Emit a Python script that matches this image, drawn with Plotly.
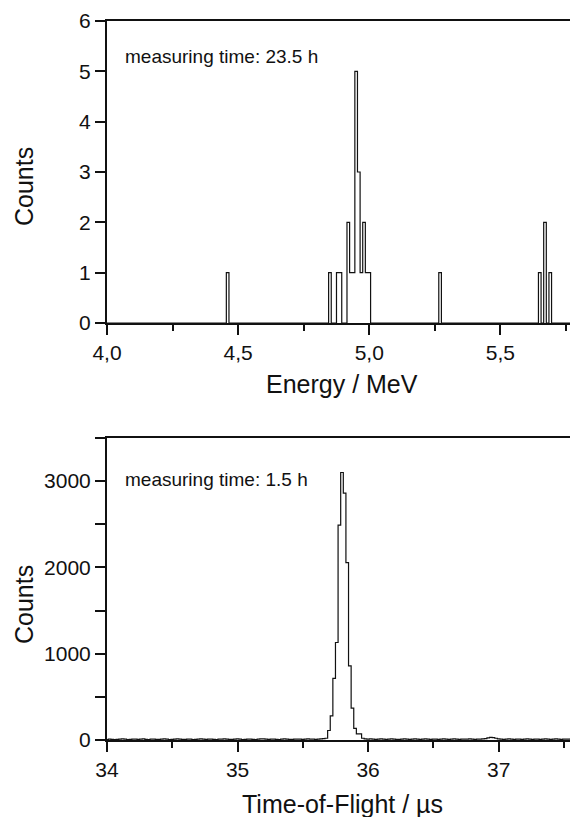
import numpy as np
import plotly.graph_objects as go

# ---------------- data ----------------
# Energy spectrum (top): 0.01 MeV bins, left edges of non-empty bins and their counts
energy_bin_left = [4.455, 4.845, 4.875, 4.885, 4.915, 4.925, 4.935, 4.945, 4.955,
                   4.965, 4.975, 4.985, 4.995, 5.265, 5.645, 5.665, 5.685]
energy_counts = [1, 1, 1, 1, 2, 1, 1, 5, 3, 1, 2, 1, 1, 1, 1, 2, 1]
energy_bin_width = 0.01
energy_start, energy_stop = 3.995, 5.805

# Time-of-flight spectrum (bottom): 0.02 us bins starting at 33.99 us
tof_start = 33.99
tof_bin_width = 0.02
tof_counts = [
    6, 9, 8, 5, 7, 10, 12, 9, 6, 8,          # 33.99 - 34.17
    11, 9, 7, 10, 12, 8, 6, 9, 11, 8,        # 34.19 - 34.37
    7, 10, 12, 9, 6, 8, 10, 13, 9, 7,        # 34.39 - 34.57
    8, 11, 9, 6, 8, 10, 12, 9, 7, 9,         # 34.59 - 34.77
    10, 8, 6, 9, 11, 13, 9, 7, 8, 10,        # 34.79 - 34.97
    12, 9, 6, 8, 10, 11, 8, 6, 9, 12,        # 34.99 - 35.17
    14, 10, 7, 9, 11, 8, 6, 9, 12, 10,       # 35.19 - 35.37
    8, 7, 9, 11, 10, 8, 9, 12, 10, 9,        # 35.39 - 35.57
    8, 10, 12, 15, 20, 110, 280, 715, 1130, 2490,   # 35.59 - 35.77
    3100, 2860, 2055, 860, 370, 135, 70, 70, 20, 12,  # 35.79 - 35.97
    10, 12, 9, 7, 10, 13, 11, 8, 9, 12,      # 35.99 - 36.17
    10, 8, 7, 10, 12, 9, 8, 11, 13, 10,      # 36.19 - 36.37
    8, 9, 12, 10, 7, 9, 11, 8, 10, 12,       # 36.39 - 36.57
    9, 7, 10, 12, 9, 8, 11, 10, 9, 12,       # 36.59 - 36.77
    10, 8, 11, 9, 12, 16, 25, 30, 28, 20,    # 36.79 - 36.97
    12, 9, 8, 10, 12, 9, 7, 10, 11, 8,       # 36.99 - 37.17
    9, 12, 10, 7, 9, 11, 8, 10, 12, 9,       # 37.19 - 37.37
    8, 10, 12, 9, 7, 10, 11, 9, 13, 10,      # 37.39 - 37.57
    9,                                       # 37.59
]

energy_tickvals = [4.0, 4.5, 5.0, 5.5]
energy_ticktext = ["4,0", "4,5", "5,0", "5,5"]
tof_tickvals = [34, 35, 36, 37]
counts_top_ticks = [0, 1, 2, 3, 4, 5, 6]
counts_bottom_ticks = [0, 1000, 2000, 3000]

label_top = "measuring time: 23.5 h"
label_bottom = "measuring time: 1.5 h"

# ---------------- build step histograms ----------------
n_e = int(round((energy_stop - energy_start) / energy_bin_width))
e_edges = np.round(energy_start + energy_bin_width * np.arange(n_e + 1), 4)
e_hist = np.zeros(n_e)
for left, c in zip(energy_bin_left, energy_counts):
    idx = int(round((left - energy_start) / energy_bin_width))
    e_hist[idx] = c
e_x = list(e_edges)
e_y = list(e_hist) + [e_hist[-1]]

n_t = len(tof_counts)
t_edges = np.round(tof_start + tof_bin_width * np.arange(n_t + 1), 4)
t_x = list(t_edges)
t_y = list(tof_counts) + [tof_counts[-1]]

# ---------------- figure ----------------
# the page body adds an 8 px margin, so the figure is 8 px smaller and all
# page-pixel positions below are shifted by OFF
OFF = 8
W, H = 578 - OFF, 817 - OFF
FONT = "Liberation Sans, Arial, Helvetica, sans-serif"
INK = "#111111"

fig = go.Figure()
fig.add_trace(go.Scatter(x=e_x, y=e_y, mode="lines", line=dict(shape="hv", color=INK, width=1.2),
                         xaxis="x", yaxis="y", showlegend=False, hoverinfo="skip"))
fig.add_trace(go.Scatter(x=t_x, y=t_y, mode="lines", line=dict(shape="hv", color=INK, width=1.2),
                         xaxis="x2", yaxis="y2", showlegend=False, hoverinfo="skip"))


def px(x):
    return (x - OFF) / W


def py(y):
    return (H - (y - OFF)) / H


# page-pixel geometry of the two plot boxes
px_left, px_right = 107, 577
top_box = (21, 323)
bot_box = (438, 740)

axis_common = dict(showline=True, linewidth=2, linecolor=INK, mirror=True, ticks="outside",
                   tickwidth=2, tickcolor=INK, ticklen=10, showgrid=False, zeroline=False,
                   automargin=False,
                   tickfont=dict(family=FONT, size=21, color=INK))

fig.update_layout(
    width=W, height=H,
    margin=dict(l=0, r=0, t=0, b=0, autoexpand=False),
    paper_bgcolor="white", plot_bgcolor="white",
    font=dict(family=FONT, color=INK),
    xaxis=dict(domain=[px(px_left), px(px_right)], range=[4.0, 5.792], anchor="y",
               tickmode="array", tickvals=energy_tickvals, ticktext=energy_ticktext,
               minor=dict(dtick=0.25, tick0=4.0, ticklen=6, tickwidth=2, tickcolor=INK, ticks="outside"),
               ticklabelstandoff=0, **axis_common),
    yaxis=dict(domain=[py(top_box[1]), py(top_box[0])], range=[0, 6], anchor="x",
               tickmode="array", tickvals=counts_top_ticks,
               ticklabelstandoff=0, **axis_common),
    xaxis2=dict(domain=[px(px_left), px(px_right)], range=[34.0, 37.6], anchor="y2",
                tickmode="array", tickvals=tof_tickvals,
                minor=dict(dtick=0.5, tick0=34.0, ticklen=6, tickwidth=2, tickcolor=INK, ticks="outside"),
                ticklabelstandoff=0, **axis_common),
    yaxis2=dict(domain=[py(bot_box[1]), py(bot_box[0])], range=[0, 3500], anchor="x2",
                tickmode="array", tickvals=counts_bottom_ticks,
                minor=dict(dtick=500, tick0=0, ticklen=10, tickwidth=2, tickcolor=INK, ticks="outside"),
                ticklabelstandoff=0, **axis_common),
)

ann = []
ann.append(dict(text=label_top, xref="x domain", yref="y domain", x=0.034, y=0.881,
                xanchor="left", yanchor="middle", showarrow=False,
                font=dict(family=FONT, size=19, color=INK)))
ann.append(dict(text=label_bottom, xref="x2 domain", yref="y2 domain", x=0.034, y=0.863,
                xanchor="left", yanchor="middle", showarrow=False,
                font=dict(family=FONT, size=19, color=INK)))
# axis titles
ann.append(dict(text="Energy / MeV", xref="paper", yref="paper", x=px(342), y=py(384),
                xanchor="center", yanchor="middle", showarrow=False,
                font=dict(family=FONT, size=25, color=INK)))
ann.append(dict(text="Time-of-Flight / µs", xref="paper", yref="paper", x=px(342), y=py(804),
                xanchor="center", yanchor="middle", showarrow=False,
                font=dict(family=FONT, size=25, color=INK)))
ann.append(dict(text="Counts", xref="paper", yref="paper", x=px(24), y=py(187),
                xanchor="center", yanchor="middle", textangle=-90, showarrow=False, borderpad=0,
                font=dict(family=FONT, size=25, color=INK)))
ann.append(dict(text="Counts", xref="paper", yref="paper", x=px(24), y=py(605),
                xanchor="center", yanchor="middle", textangle=-90, showarrow=False, borderpad=0,
                font=dict(family=FONT, size=25, color=INK)))
fig.update_layout(annotations=ann)

fig.write_html("out.html")
